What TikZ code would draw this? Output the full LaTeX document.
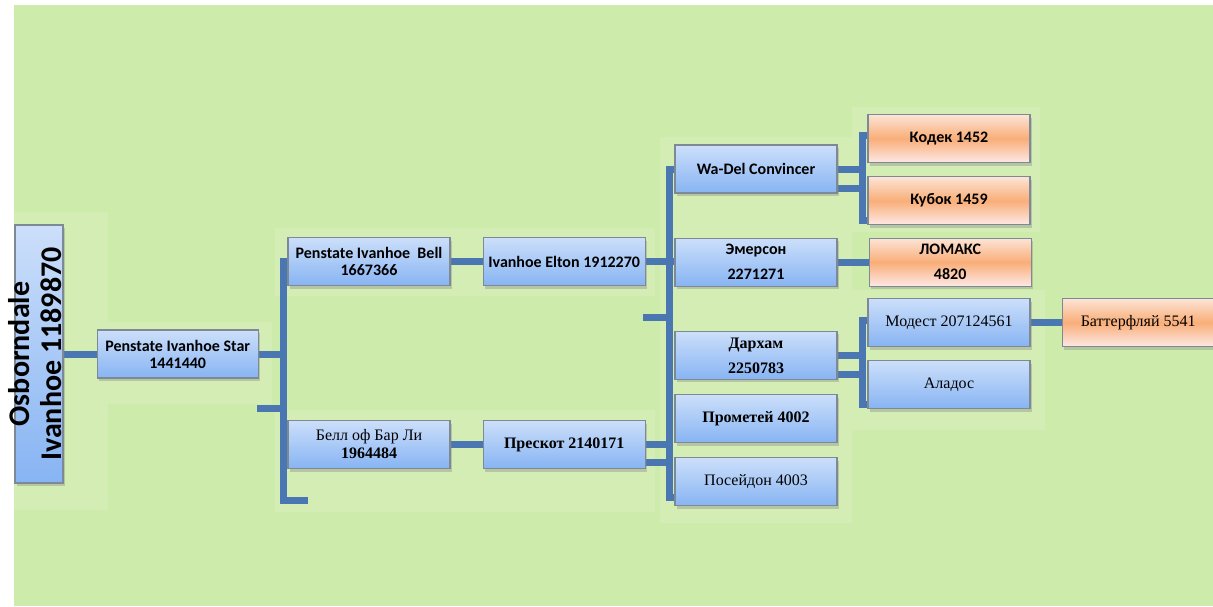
\documentclass[tikz,border=0pt]{standalone}
\usepackage{fontspec}
\setmainfont{Liberation Serif}
\setsansfont{Carlito}
\usetikzlibrary{positioning,shadows,backgrounds}

\definecolor{bggreen}{RGB}{205,235,170}
\definecolor{panelgreen}{RGB}{211,237,181}
\definecolor{barblue}{RGB}{74,118,178}
\definecolor{boxtop}{RGB}{204,223,250}
\definecolor{boxbot}{RGB}{135,180,243}
\definecolor{boxline}{RGB}{125,138,150}
\definecolor{orgtop}{RGB}{252,228,214}
\definecolor{orgmid}{RGB}{249,174,120}
\definecolor{orgbot}{RGB}{253,232,230}

\tikzstyle{box} = [rectangle, draw=boxline, line width=1.2pt, top color=boxtop, bottom color=boxbot,
    minimum width=162pt, minimum height=48pt, inner sep=1pt, align=center,
    drop shadow={shadow xshift=2pt, shadow yshift=-3pt, opacity=0.35}]
\tikzstyle{obox} = [box, top color=orgtop, bottom color=orgbot, middle color=orgmid]
\tikzstyle{bar} = [draw=barblue, line width=7pt]
\tikzstyle{sans} = [font=\sffamily\bfseries\fontsize{16}{17}\selectfont]
\tikzstyle{sansw} = [font=\sffamily\bfseries\fontsize{16}{25}\selectfont]
\tikzstyle{serif} = [font=\fontsize{16}{18}\selectfont]
\tikzstyle{serifb} = [font=\bfseries\fontsize{16}{18}\selectfont]
\tikzstyle{serifw} = [font=\bfseries\fontsize{16}{25}\selectfont]

\begin{document}
\begin{tikzpicture}[x=1pt, y=-1pt]
    \useasboundingbox (0,0) rectangle (1213,606);
    % Place nodes
    \node [box, minimum width=48pt, minimum height=258pt] (root) at (39,354)
        {\makebox[40pt]{\rotatebox{90}{\sffamily\bfseries\fontsize{30}{32}\selectfont
         \begin{tabular}{@{}c@{}}Osborndale\\Ivanhoe 1189870\end{tabular}}}};
    \node [box, minimum width=161pt, sans, right=33pt of root] (star) {Penstate Ivanhoe Star\\1441440};
    \node [box, sans] (bell) at (369,261.5) {Penstate Ivanhoe\ \ Bell\\1667366};
    \node [box, serif] (barli) at (369,444.5) {Белл оф Бар Ли\\\textbf{1964484}};
    \node [box, sans, right=32pt of bell] (elton) {Ivanhoe Elton 1912270};
    \node [box, serifb, right=32pt of barli] (prescot) {Прескот 2140171};

    \node [box, sans] (wadel) at (756,169) {Wa-Del Convincer};
    \node [box, sansw, below=44pt of wadel] (emerson) {Эмерсон\\2271271};
    \node [box, serifw, below=44pt of emerson] (darham) {Дархам\\2250783};
    \node [box, serifb, below=14pt of darham] (prometey) {Прометей 4002};
    \node [box, serif, below=14pt of prometey] (poseidon) {Посейдон 4003};

    \node [obox, sans] (kodek) at (949,138.5) {Кодек 1452};
    \node [obox, sans, below=13pt of kodek] (kubok) {Кубок 1459};
    \node [obox, sansw, right=31pt of emerson] (lomaks) {ЛОМАКС\\4820};
    \node [box, serif] (modest) at (949,322.5) {Модест 207124561};
    \node [box, serif, below=13pt of modest] (alados) {Аладос};
    \node [obox, serif, minimum width=152pt, right=31pt of modest] (butterfly) {Баттерфляй 5541};

    \coordinate (trunkA) at (283,500);
    \coordinate (stubA) at (257,408);
    \coordinate (endA) at (308,500);
    \coordinate (trunkB) at (669,497);
    \coordinate (stubB) at (643,317);
    \coordinate (trunkC) at (862,220);
    \coordinate (trunkD) at (862,404);

    \begin{pgfonlayer}{background}
    % Ground and faint panels
    \fill [white] (0,0) rectangle (1213,606);
    \fill [bggreen] (14,5) rectangle (1213,606);
    \fill [panelgreen] (14,212) rectangle (108,510);
    \fill [panelgreen] (92,322) rectangle (272,404);
    \fill [panelgreen] (275,228) rectangle (655,296);
    \fill [panelgreen] (275,410) rectangle (655,512);
    \fill [panelgreen] (660,137) rectangle (852,523);
    \fill [panelgreen] (852,107) rectangle (1040,232);
    \fill [panelgreen] (852,290) rectangle (1045,430);
    % Draw edges
    \path [bar] (root) -- (star);
    \path [bar] (star.east) -- (star.east -| trunkA);
    \path [bar] (stubA) -- (stubA -| trunkA);
    \path [bar] (bell.west) -| (trunkA) -- (endA);
    \path [bar] (bell) -- (elton);
    \path [bar] (barli) -- (prescot);
    \path [bar] (wadel.west) -| (trunkB) -- (trunkB -| poseidon.west);
    \path [bar] (elton.east) -- (elton.east -| emerson.west);
    \path [bar] (stubB) -- (stubB -| trunkB);
    \path [bar] (prescot.east) -- (prescot.east -| trunkB);
    \path [bar] ([yshift=-18pt]prescot.east) -- ([yshift=-18pt]prescot.east -| trunkB);
    \path [bar] ([yshift=3pt]kodek.west) -| (trunkC) -- (trunkC -| kubok.west);
    \path [bar] (wadel.east) -- (wadel.east -| trunkC);
    \path [bar] ([yshift=-19pt]wadel.east) -- ([yshift=-19pt]wadel.east -| trunkC);
    \path [bar] (emerson) -- (lomaks);
    \path [bar] ([yshift=2pt]modest.west) -| (trunkD) -- (trunkD -| alados.west);
    \path [bar] (darham.east) -- (darham.east -| trunkD);
    \path [bar] ([yshift=-19pt]darham.east) -- ([yshift=-19pt]darham.east -| trunkD);
    \path [bar] (modest) -- (butterfly);
    \end{pgfonlayer}
\end{tikzpicture}
\end{document}
